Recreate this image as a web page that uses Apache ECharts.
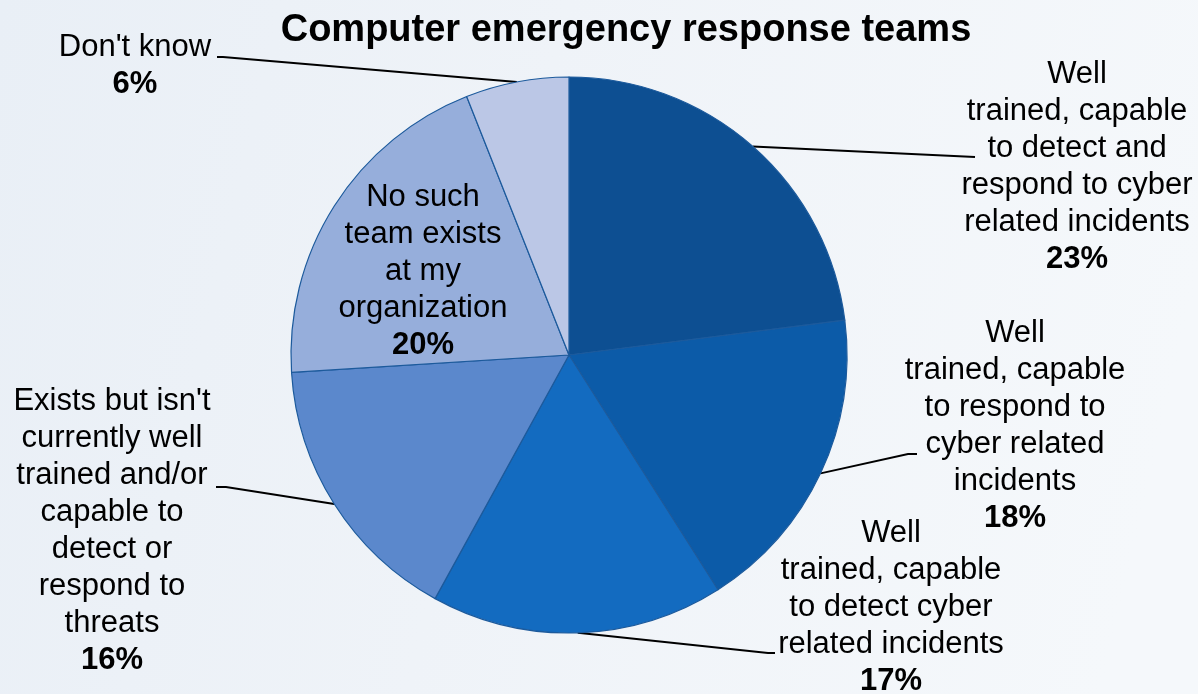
<!DOCTYPE html>
<html>
<head>
<meta charset="utf-8">
<title>Computer emergency response teams</title>
<script src="https://cdn.jsdelivr.net/npm/echarts@6/dist/echarts.min.js"></script>
<style>
  html, body { margin: 0; padding: 0; width: 1198px; height: 694px; overflow: hidden; }
  #chart { width: 1198px; height: 694px; }
</style>
</head>
<body>
<div id="chart"></div>
<script>
// Survey answers, clockwise from 12 o'clock
const categories = [
  'Well\ntrained, capable\nto detect and\nrespond to cyber\nrelated incidents',
  'Well\ntrained, capable\nto respond to\ncyber related\nincidents',
  'Well\ntrained, capable\nto detect cyber\nrelated incidents',
  "Exists but isn't\ncurrently well\ntrained and/or\ncapable to\ndetect or\nrespond to\nthreats",
  'No such\nteam exists\nat my\norganization',
  "Don't know"
];
const values = [23, 18, 17, 16, 20, 6];
const sliceColors = ['#0d4f92', '#0c5ba8', '#136bc0', '#5b88cc', '#96aedb', '#bbc7e6'];

// Where each label block sits (centre) and where its leader line ends
const labelPlacement = [
  { x: 1077, y: 167, lineEnd: [975, 157], bend: [975, 157] },
  { x: 1015, y: 426, lineEnd: [917, 454], bend: [908, 454] },
  { x: 891, y: 607, lineEnd: [775, 653], bend: [768, 653] },
  { x: 112, y: 531, lineEnd: [216, 487], bend: [226, 487] },
  { x: 423, y: 271, inside: true },
  { x: 135, y: 66, lineEnd: [217, 57], bend: [223, 57] }
];

const CENTER = [569, 355];
const RADIUS = 278;

const total = values.reduce((a, b) => a + b, 0);
function edgePoint(i) {
  let before = 0;
  for (let k = 0; k < i; k++) before += values[k];
  const mid = (before + values[i] / 2) / total * Math.PI * 2;
  return [CENTER[0] + RADIUS * Math.sin(mid), CENTER[1] - RADIUS * Math.cos(mid)];
}

const pieData = categories.map((name, i) => {
  const item = {
    name: name,
    value: values[i],
    itemStyle: { color: sliceColors[i] }
  };
  if (labelPlacement[i].inside) {
    item.label = { position: 'inside' };
    item.labelLine = { show: false };
  }
  return item;
});

const chart = echarts.init(document.getElementById('chart'), null, { renderer: 'canvas' });

chart.setOption({
  animation: false,
  backgroundColor: {
    type: 'linear', x: 0, y: 0, x2: 1, y2: 0.4,
    colorStops: [
      { offset: 0, color: '#e9eff6' },
      { offset: 0.45, color: '#eff3f8' },
      { offset: 1, color: '#f5f8fb' }
    ]
  },
  title: {
    text: 'Computer emergency response teams',
    left: 621,
    top: 7,
    textAlign: 'center',
    textStyle: {
      fontFamily: 'Liberation Sans, Arial, sans-serif',
      fontSize: 38,
      fontWeight: 'bold',
      color: '#000'
    }
  },
  series: [{
    type: 'pie',
    center: CENTER,
    radius: RADIUS,
    startAngle: 90,
    clockwise: true,
    avoidLabelOverlap: false,
    data: pieData,
    itemStyle: {
      borderColor: '#1c5a9c',
      borderWidth: 1.2
    },
    label: {
      show: true,
      position: 'outside',
      color: '#000',
      fontFamily: 'Liberation Sans, Arial, sans-serif',
      fontSize: 31,
      lineHeight: 37,
      align: 'center',
      formatter: function (p) {
        const lines = p.name.split('\n').map(s => '{n|' + s + '}');
        lines.push('{v|' + p.value + '%}');
        return lines.join('\n');
      },
      rich: {
        n: {
          fontFamily: 'Liberation Sans, Arial, sans-serif',
          fontSize: 31, lineHeight: 37, color: '#000', align: 'center'
        },
        v: {
          fontFamily: 'Liberation Sans, Arial, sans-serif',
          fontSize: 31, lineHeight: 37, color: '#000', fontWeight: 'bold', align: 'center'
        }
      }
    },
    labelLine: {
      show: true,
      lineStyle: { color: '#000', width: 2 }
    },
    labelLayout: function (params) {
      const cfg = labelPlacement[params.dataIndex];
      const out = { x: cfg.x, y: cfg.y, align: 'center', verticalAlign: 'middle' };
      if (!cfg.inside) {
        const start = (params.labelLinePoints && params.labelLinePoints[0]) || edgePoint(params.dataIndex);
        out.labelLinePoints = [start, cfg.bend, cfg.lineEnd];
      }
      return out;
    }
  }]
});
</script>
</body>
</html>
